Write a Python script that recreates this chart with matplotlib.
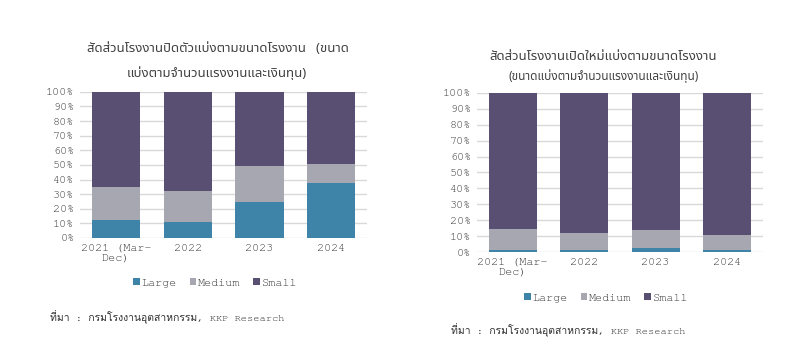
import matplotlib
matplotlib.use('Agg')
import matplotlib.pyplot as plt
from matplotlib import font_manager

THAI = 'Noto Sans Thai'

# use a Courier-looking mono if the box has one
installed = {f.name for f in font_manager.fontManager.ttflist}
MONO = next((n for n in ['Courier New', 'Nimbus Mono PS', 'FreeMono', 'Courier Prime']
             if n in installed), 'Liberation Mono')
SRC_THAI = 'Loma' if 'Loma' in installed else THAI

years = ['2021 (Mar-\nDec)', '2022', '2023', '2024']
series = ['Large', 'Medium', 'Small']
colors = ['#3e84a8', '#a7a7b1', '#594f72']

# โรงงานปิดตัว (closed factories), %
closed_large = [12, 11, 24.5, 37.5]
closed_medium = [23, 21, 25, 13]
closed_small = [65, 68, 50.5, 49.5]

# โรงงานเปิดใหม่ (new factories), %
new_large = [1.5, 1.0, 2.5, 1.5]
new_medium = [13, 11, 11.5, 9.5]
new_small = [85.5, 88, 86, 89]

yticks = list(range(0, 101, 10))
source = 'ที่มา : กรมโรงงานอุตสาหกรรม, KKP Research'
TXT = '#3a3a3a'


def stacked(ax, large, medium, small):
    x = list(range(len(years)))
    bottom = [0] * len(years)
    for name, vals, c in zip(series, [large, medium, small], colors):
        ax.bar(x, vals, width=0.67, bottom=bottom, color=c, label=name, zorder=3)
        bottom = [b + v for b, v in zip(bottom, vals)]
    ax.set_xlim(-0.5, len(years) - 0.5)
    ax.set_ylim(0, 100)
    ax.set_yticks(yticks)
    ax.set_yticklabels([f'{t}%' for t in yticks], family=MONO, fontsize=8.5, color=TXT)
    ax.set_xticks(x)
    ax.set_xticklabels(years, family=MONO, fontsize=8.5, color=TXT, linespacing=1.2)
    ax.grid(axis='y', color='#d9d9d9', linewidth=1, zorder=0)
    ax.tick_params(length=0, pad=4)
    for s in ['top', 'right', 'left', 'bottom']:
        ax.spines[s].set_visible(False)


fig = plt.figure(figsize=(8, 3.52), dpi=100)

ax1 = fig.add_axes([0.1, 0.324, 0.359, 0.415])
stacked(ax1, closed_large, closed_medium, closed_small)
ax2 = fig.add_axes([0.596, 0.284, 0.3575, 0.452])
stacked(ax2, new_large, new_medium, new_small)

fig.text(0.273, 0.862, 'สัดส่วนโรงงานปิดตัวแบ่งตามขนาดโรงงาน   (ขนาด', ha='center', va='center',
         family=THAI, fontsize=9.5, color='#404040')
fig.text(0.271, 0.793, 'แบ่งตามจำนวนแรงงานและเงินทุน)', ha='center', va='center',
         family=THAI, fontsize=9.5, color='#404040')
fig.text(0.754, 0.840, 'สัดส่วนโรงงานเปิดใหม่แบ่งตามขนาดโรงงาน', ha='center', va='center',
         family=THAI, fontsize=9.5, color='#404040')
fig.text(0.754, 0.785, '(ขนาดแบ่งตามจำนวนแรงงานและเงินทุน)', ha='center', va='center',
         family=THAI, fontsize=8.5, color='#404040')

for ax, cx, cy in [(ax1, 0.269, 0.196), (ax2, 0.7575, 0.153)]:
    ax.legend(loc='center', bbox_to_anchor=(cx, cy), bbox_transform=fig.transFigure,
              ncol=3, frameon=False, handlelength=0.55, handleheight=0.55,
              handletextpad=0.15, columnspacing=1.1,
              prop={'family': MONO, 'size': 8.5}, labelcolor=TXT)

fig.text(0.0625, 0.099, source, ha='left', va='center', family=[MONO, SRC_THAI],
         fontsize=7.5, color='#303030')
fig.text(0.564, 0.0625, source, ha='left', va='center', family=[MONO, SRC_THAI],
         fontsize=7.5, color='#303030')

fig.savefig('out.png', dpi=100)
